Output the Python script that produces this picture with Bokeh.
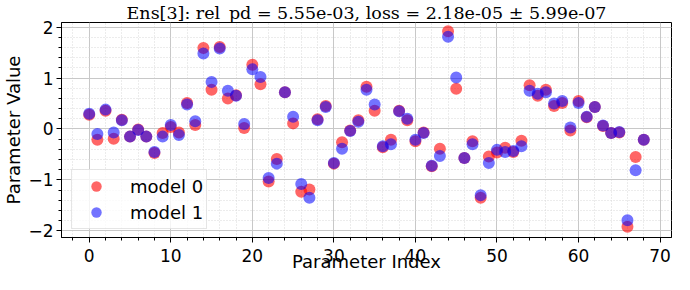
from bokeh.plotting import figure
from bokeh.models import Range1d, SingleIntervalTicker, Legend, LegendItem
from bokeh.embed import file_html
from bokeh.resources import INLINE

title_text = "Ens[3]: rel_pd = 5.55e-03, loss = 2.18e-05 \u00b1 5.99e-07"
x_label = "Parameter Index"
y_label = "Parameter Value"
series_names = ["model 0", "model 1"]

param_index = list(range(69))

model0 = [0.28, -0.21, 0.36, -0.19, 0.18, -0.15, -0.01, -0.15, -0.47, -0.08,
          0.04, -0.07, 0.51, 0.08, 1.59, 0.77, 1.61, 0.60, 0.66, 0.02,
          1.26, 0.88, -1.03, -0.59, 0.72, 0.11, -1.23, -1.19, 0.19, 0.45,
          -0.68, -0.26, -0.03, 0.17, 0.83, 0.36, -0.36, -0.21, 0.36, 0.17,
          -0.24, -0.07, -0.73, -0.39, 1.92, 0.79, -0.57, -0.24, -1.35, -0.54,
          -0.46, -0.37, -0.45, -0.23, 0.86, 0.65, 0.77, 0.45, 0.51, -0.03,
          0.55, 0.23, 0.43, 0.06, -0.08, -0.07, -1.92, -0.55, -0.21]

model1 = [0.30, -0.10, 0.38, -0.07, 0.17, -0.15, -0.02, -0.15, -0.45, -0.15,
          0.08, -0.12, 0.48, 0.15, 1.48, 0.92, 1.58, 0.75, 0.65, 0.10,
          1.17, 1.02, -0.96, -0.68, 0.72, 0.24, -1.08, -1.35, 0.17, 0.43,
          -0.67, -0.39, -0.04, 0.14, 0.77, 0.48, -0.34, -0.30, 0.35, 0.20,
          -0.21, -0.08, -0.72, -0.53, 1.81, 1.01, -0.57, -0.30, -1.30, -0.67,
          -0.41, -0.45, -0.43, -0.34, 0.75, 0.69, 0.72, 0.50, 0.55, 0.03,
          0.51, 0.24, 0.43, 0.07, -0.08, -0.06, -1.79, -0.81, -0.21]

y_tick_labels = {-2: "\u22122", -1: "\u22121", 0: "0", 1: "1", 2: "2"}

p = figure(width=674, height=274, output_backend="svg", toolbar_location=None,
           x_range=Range1d(-3.4, 71.4), y_range=Range1d(-2.13, 2.09),
           min_border_left=53, min_border_right=3, min_border_top=19, min_border_bottom=10)

p.title.text = title_text
p.title.text_font = "DejaVu Serif"
p.title.text_font_size = "17.5px"
p.title.text_font_style = "normal"
p.title.align = "center"
p.title.text_color = "black"
p.title.standoff = 0
p.title.offset = -8

p.outline_line_color = "black"
p.outline_line_width = 1
p.background_fill_color = "white"
p.border_fill_color = "white"

p.xaxis.ticker = SingleIntervalTicker(interval=10, num_minor_ticks=5)
p.yaxis.ticker = SingleIntervalTicker(interval=1, num_minor_ticks=5)
p.yaxis.major_label_overrides = y_tick_labels

for ax in (p.xaxis, p.yaxis):
    ax.axis_line_color = "black"
    ax.major_tick_line_color = "black"
    ax.minor_tick_line_color = "black"
    ax.major_tick_out = 5
    ax.major_tick_in = 0
    ax.minor_tick_out = 3
    ax.minor_tick_in = 0
    ax.major_label_text_font = "DejaVu Sans"
    ax.major_label_text_font_size = "17px"
    ax.major_label_text_color = "black"
    ax.axis_label_text_font = "DejaVu Sans"
    ax.axis_label_text_font_size = "18px"
    ax.axis_label_text_font_style = "normal"
    ax.axis_label_text_color = "black"

p.xaxis.major_label_standoff = 6
p.xaxis.axis_label_standoff = -14
p.yaxis.major_label_standoff = 3
p.yaxis.axis_label_standoff = 1

p.xaxis.axis_label = x_label
p.yaxis.axis_label = y_label

p.grid.grid_line_color = "#c8c8c8"
p.grid.grid_line_width = 1
p.grid.minor_grid_line_color = "#d8d8d8"
p.grid.minor_grid_line_dash = "1 2"

r0 = p.scatter(param_index, model0, size=12, fill_color="#ff0000", fill_alpha=0.6,
               line_color=None)
r1 = p.scatter(param_index, model1, size=12, fill_color="#0000ff", fill_alpha=0.55,
               line_color=None)

legend = Legend(items=[LegendItem(label=series_names[0], renderers=[r0]),
                       LegendItem(label=series_names[1], renderers=[r1])],
                location=(10, 8))
legend.label_text_font = "DejaVu Sans"
legend.label_text_font_size = "18px"
legend.label_text_color = "black"
legend.padding = 3
legend.spacing = 0
legend.glyph_height = 26
legend.glyph_width = 42
legend.label_standoff = 13
legend.border_line_color = "#cccccc"
legend.border_line_width = 1
legend.background_fill_alpha = 0.8
p.add_layout(legend, "center")

open("out.html", "w").write(file_html(p, INLINE))
